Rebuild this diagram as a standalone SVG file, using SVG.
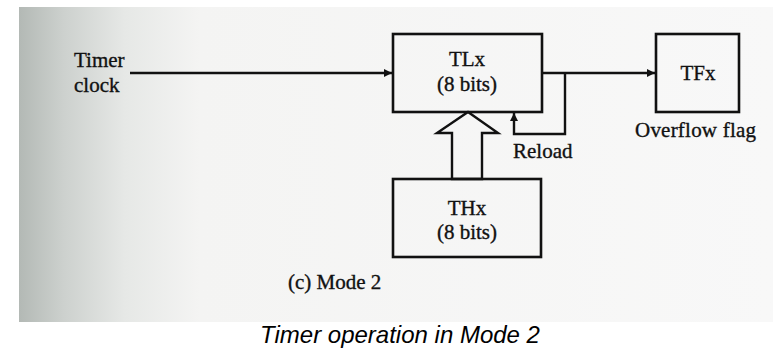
<svg xmlns="http://www.w3.org/2000/svg" width="773" height="351" viewBox="0 0 773 351">
<defs>
<linearGradient id="paper" x1="0" y1="0" x2="1" y2="0" gradientUnits="objectBoundingBox">
<stop offset="0" stop-color="#b3b9b5"/>
<stop offset="0.06" stop-color="#cdd1ce"/>
<stop offset="0.14" stop-color="#e6e8e6"/>
<stop offset="0.24" stop-color="#f4f4f3"/>
<stop offset="1" stop-color="#f8f8f8"/>
</linearGradient>
<marker id="arr" viewBox="0 0 10 10" refX="10" refY="5" markerWidth="10" markerHeight="8" markerUnits="userSpaceOnUse" orient="auto">
<path d="M0,0 L10,5 L0,10 Z" fill="#111"/>
</marker>
<style>
.ln{fill:none;stroke:#111;stroke-width:2.4}
.box{fill:none;stroke:#111;stroke-width:2.6}
.t{font-family:"Liberation Serif","Times New Roman",serif;font-size:21px;fill:#111;stroke:#111;stroke-width:0.35}
.m{text-anchor:middle}
.cap{font-family:"Liberation Sans",Arial,sans-serif;font-style:italic;font-size:24px;fill:#000;text-anchor:middle}
</style>
</defs>
<rect x="0" y="0" width="773" height="351" fill="#ffffff"/>
<rect x="19" y="7" width="754" height="315" fill="url(#paper)"/>

<g id="connectors">
<line class="ln" x1="130" y1="73" x2="392" y2="73" marker-end="url(#arr)"/>
<line class="ln" x1="542" y1="73" x2="655" y2="73" marker-end="url(#arr)"/>
<path class="ln" d="M565,73 V134 H514 V113" marker-end="url(#arr)"/>
<polygon class="ln" points="452,179 452,133 437,133 468,112 498,133 482,133 482,179"/>
</g>

<g id="timer-clock">
<text class="t" x="74" y="67">Timer</text>
<text class="t" x="74" y="92">clock</text>
</g>

<g id="TLx">
<rect class="box" x="393" y="34" width="149" height="78"/>
<text class="t m" x="467" y="66">TLx</text>
<text class="t m" x="467" y="91">(8 bits)</text>
</g>

<g id="TFx">
<rect class="box" x="656" y="34" width="83" height="78"/>
<text class="t m" x="698" y="80">TFx</text>
<text class="t" x="635" y="137" textLength="121">Overflow flag</text>
</g>

<g id="reload-label">
<text class="t" x="513" y="158">Reload</text>
</g>

<g id="THx">
<rect class="box" x="393" y="179" width="148" height="78"/>
<text class="t m" x="467" y="215">THx</text>
<text class="t m" x="467" y="239">(8 bits)</text>
</g>

<g id="mode-label">
<text class="t" x="288" y="289">(c) Mode 2</text>
</g>

<g id="caption">
<text class="cap" x="400" y="343">Timer operation in Mode 2</text>
</g>
</svg>
